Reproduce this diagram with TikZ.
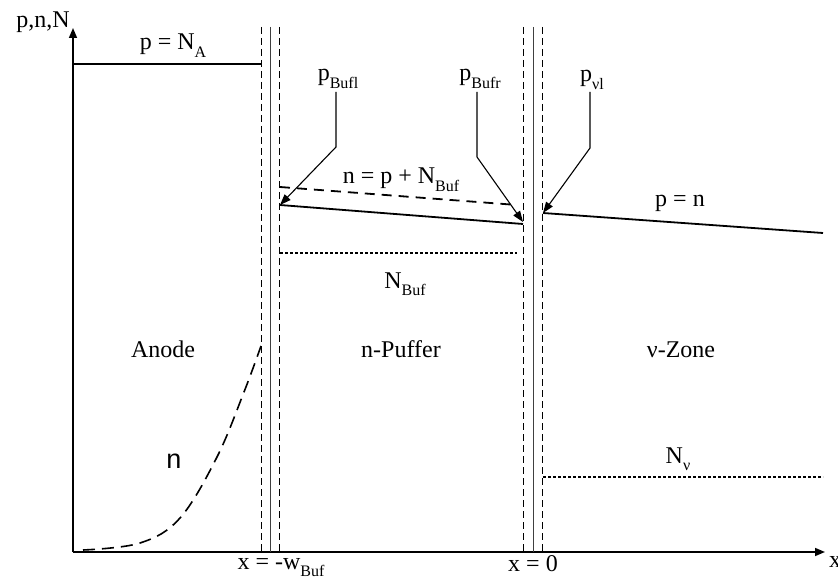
\documentclass[tikz,border=0pt]{standalone}
\usepackage{fontspec}
\setmainfont{Liberation Serif}
\newfontfamily\sansf{Liberation Sans}
\usetikzlibrary{arrows.meta}
\newcommand{\sbs}[1]{\raisebox{-0.3em}{\fontsize{16}{16}\selectfont #1}}
\tikzset{
  axisln/.style={line width=1.5pt, -{Triangle[length=10pt,width=8pt]}},
  ifsolid/.style={line width=1pt, black!75},
  ifdash/.style={line width=1pt, dash pattern=on 7pt off 4pt},
  levelln/.style={line width=1.8pt},
  ptr/.style={line width=1.1pt, -{Triangle[length=11pt,width=8pt]}},
  dotln/.style={line width=1.6pt, dash pattern=on 2.5pt off 2.5pt},
  dashln/.style={line width=1.8pt, dash pattern=on 10pt off 7pt},
  lbl/.style={inner sep=0pt, anchor=base},
}
\begin{document}
\begin{tikzpicture}[x=1pt,y=-1pt,font=\fontsize{24}{28}\selectfont]
\useasboundingbox (0,0) rectangle (838,580);
% axes
\coordinate (O) at (73,552);
\coordinate (ytip) at (73,28);
\coordinate (xtip) at (825,552);
\draw[axisln] (O) -- (ytip);
\draw[axisln] (O) -- (xtip);
\node[lbl, anchor=base east] (ylab) at (70,28) {p,n,N};
\node[lbl, anchor=base west] (xlab) at (829,567) {x};
% interfaces
\draw[ifdash] (261,27) -- (261,552);
\draw[ifsolid] (270,27) -- (270,552);
\draw[ifdash] (279,27) -- (279,552);
\draw[ifdash] (523,27) -- (523,552);
\draw[ifsolid] (533,27) -- (533,552);
\draw[ifdash] (542,27) -- (542,552);
% anode level
\coordinate (na1) at (73,64);
\coordinate (na2) at (261,64);
\draw[levelln] (na1) -- (na2);
\node[lbl] (pNA) at (173,50) {p = N\sbs{A}};
% buffer lines
\coordinate (pbl) at (280,205);
\coordinate (pbr) at (523,224);
\draw[levelln] (pbl) -- (pbr);
\coordinate (nbl) at (280,187);
\coordinate (nbr) at (517,205);
\draw[dashln] (nbl) -- (nbr);
\node[lbl] (nlab) at (401,184) {n = p + N\sbs{Buf}};
\coordinate (dbl) at (280,253);
\coordinate (dbr) at (517,253);
\draw[dotln] (dbl) -- (dbr);
\node[lbl] (NBuf) at (405,288) {N\sbs{Buf}};
% nu zone
\coordinate (pnl) at (543,213);
\coordinate (pnr) at (823,233);
\draw[levelln] (pnl) -- (pnr);
\node[lbl] (pnlab) at (680,207) {p = n};
\coordinate (dnl) at (543,477);
\coordinate (dnr) at (823,477);
\draw[dotln] (dnl) -- (dnr);
\node[lbl] (Nnu) at (678,463) {N\sbs{ν}};
% pointer labels
\node[lbl] (pBufl) at (338,81) {p\sbs{Bufl}};
\node[lbl] (pBufr) at (480,81) {p\sbs{Bufr}};
\node[lbl] (pnul) at (592,82) {p\sbs{νl}};
\coordinate (pbrt) at (523,222);
\draw[ptr] (336,92) -- (336,147) -- (pbl);
\draw[ptr] (477,92) -- (477,157) -- (pbrt);
\draw[ptr] (590,92) -- (590,148) -- (pnl);
% region labels
\node[lbl] (anode) at (163,357) {Anode};
\node[lbl] (puffer) at (401,357) {n-Puffer};
\node[lbl] (zone) at (681,357) {ν-Zone};
\node[lbl, font=\sansf\fontsize{27}{30}\selectfont] (nsans) at (174,468) {n};
% n curve
\draw[line width=1.6pt, dash pattern=on 12pt off 7pt] plot[smooth, tension=0.6] coordinates {(83,550) (140,543) (180,518) (217,457) (244,392) (261,346)};
% x-axis labels
\node[lbl] (xw) at (281,569) {x = -w\sbs{Buf}};
\node[lbl] (x0) at (533,571) {x = 0};
\end{tikzpicture}
\end{document}
